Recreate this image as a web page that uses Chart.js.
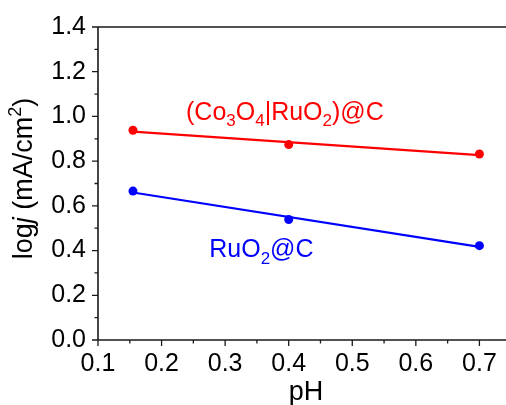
<!DOCTYPE html>
<html>
<head>
<meta charset="utf-8">
<script src="https://cdn.jsdelivr.net/npm/chart.js@4/dist/chart.umd.min.js"></script>
<style>
  html, body { margin: 0; padding: 0; background: #fff; overflow: hidden; }
  #wrap { width: 506px; height: 405px; position: relative; }
</style>
</head>
<body>
<div id="wrap"><canvas id="c" width="506" height="405"></canvas></div>
<script>
// Measured pH values and log current densities for the two catalysts
const phValues = [0.155, 0.4, 0.7];
const logjCoRu = [0.938, 0.874, 0.832];
const logjRu = [0.666, 0.539, 0.422];

// Axis tick labels
const xTickValues = [0.1, 0.2, 0.3, 0.4, 0.5, 0.6, 0.7];
const yTickValues = [0.0, 0.2, 0.4, 0.6, 0.8, 1.0, 1.2, 1.4];

// Text markup: _x = subscript char, ^x = superscript char, *...* = italic
const seriesNames = ['(Co_3O_4|RuO_2)@C', 'RuO_2@C'];
const xTitle = 'pH';
const yTitle = 'log*j* (mA/cm^2)';

const RED = '#ff0000';
const BLUE = '#0000ff';
const FONT = '"Liberation Sans", Arial, sans-serif';

// Least-squares straight line through a series
function linFit(xs, ys) {
  const n = xs.length;
  const mx = xs.reduce((a, v) => a + v, 0) / n;
  const my = ys.reduce((a, v) => a + v, 0) / n;
  let sxy = 0, sxx = 0;
  for (let i = 0; i < n; i++) {
    sxy += (xs[i] - mx) * (ys[i] - my);
    sxx += (xs[i] - mx) * (xs[i] - mx);
  }
  const m = sxy / sxx;
  return { m, b: my - m * mx };
}
function fitLine(xs, ys) {
  const f = linFit(xs, ys);
  const x0 = Math.min(...xs), x1 = Math.max(...xs);
  return [{ x: x0, y: f.m * x0 + f.b }, { x: x1, y: f.m * x1 + f.b }];
}
const pts = (xs, ys) => xs.map((x, i) => ({ x, y: ys[i] }));

// Split markup into styled runs
function parseRich(str) {
  const runs = [];
  let italic = false;
  for (let i = 0; i < str.length; i++) {
    const ch = str[i];
    if (ch === '*') { italic = !italic; continue; }
    if (ch === '_' || ch === '^') {
      runs.push({ t: str[i + 1], mode: ch === '_' ? 'sub' : 'sup', italic });
      i++;
      continue;
    }
    const last = runs[runs.length - 1];
    if (last && last.mode === 'n' && last.italic === italic) last.t += ch;
    else runs.push({ t: ch, mode: 'n', italic });
  }
  return runs;
}
function runFont(r, size) {
  const s = r.mode === 'n' ? size : Math.round(size * 0.68);
  return (r.italic ? 'italic ' : '') + s + 'px ' + FONT;
}
function richWidth(ctx, runs, size) {
  let w = 0;
  runs.forEach(r => { ctx.font = runFont(r, size); w += ctx.measureText(r.t).width; });
  return w;
}
// Draws rich text starting at (x, y) on the baseline
function drawRich(ctx, runs, x, y, size, color) {
  ctx.fillStyle = color;
  ctx.textBaseline = 'alphabetic';
  ctx.textAlign = 'left';
  runs.forEach(r => {
    ctx.font = runFont(r, size);
    let dy = 0;
    if (r.mode === 'sub') dy = size * 0.26;
    if (r.mode === 'sup') dy = -size * 0.4;
    ctx.fillText(r.t, x, y + dy);
    x += ctx.measureText(r.t).width;
  });
}

// Frame, tick marks, axis titles and in-plot series labels
const decorPlugin = {
  id: 'decor',
  afterDraw(chart) {
    const { ctx, chartArea: a, scales: { x, y } } = chart;
    const right = chart.width;
    ctx.save();
    ctx.strokeStyle = '#1a1a1a';
    ctx.lineWidth = 1.6;
    ctx.beginPath();
    // left axis and bottom axis
    ctx.moveTo(a.left, a.top);
    ctx.lineTo(a.left, a.bottom);
    ctx.moveTo(a.left, a.bottom);
    ctx.lineTo(right, a.bottom);
    // top border
    ctx.moveTo(a.left, a.top);
    ctx.lineTo(right, a.top);
    ctx.stroke();

    ctx.lineWidth = 1.3;
    ctx.beginPath();
    // x ticks (major every 0.1, minor halfway)
    for (let v = 0.1; v <= 0.75 + 1e-9; v += 0.05) {
      const px = x.getPixelForValue(v);
      if (px > right) break;
      const major = Math.abs(Math.round(v * 10) - v * 10) < 1e-6;
      ctx.moveTo(px, a.bottom);
      ctx.lineTo(px, a.bottom + (major ? 6 : 3.5));
    }
    // y ticks (major every 0.2, minor halfway)
    for (let v = 0; v <= y.max + 1e-9; v += 0.1) {
      const py = y.getPixelForValue(v);
      const major = Math.abs(Math.round(v * 5) - v * 5) < 1e-6;
      ctx.moveTo(a.left, py);
      ctx.lineTo(a.left - (major ? 6 : 3.5), py);
    }
    ctx.stroke();

    // x title
    const xr = parseRich(xTitle);
    const xw = richWidth(ctx, xr, 27);
    drawRich(ctx, xr, (a.left + right) / 2 + 4 - xw / 2, 400, 27, '#000');

    // y title (rotated)
    const yr = parseRich(yTitle);
    const yw = richWidth(ctx, yr, 27);
    ctx.save();
    ctx.translate(32, (a.top + a.bottom) / 2 - 5);
    ctx.rotate(-Math.PI / 2);
    drawRich(ctx, yr, -yw / 2, 0, 27, '#000');
    ctx.restore();

    // series labels placed in data space
    const r1 = parseRich(seriesNames[0]);
    const w1 = richWidth(ctx, r1, 25);
    drawRich(ctx, r1, x.getPixelForValue(0.394) - w1 / 2, y.getPixelForValue(0.985), 25, RED);
    const r2 = parseRich(seriesNames[1]);
    drawRich(ctx, r2, x.getPixelForValue(0.275), y.getPixelForValue(0.37), 25, BLUE);
    ctx.restore();
  }
};

new Chart(document.getElementById('c'), {
  type: 'scatter',
  data: {
    datasets: [
      { label: seriesNames[0], data: pts(phValues, logjCoRu), backgroundColor: RED, borderColor: RED,
        pointRadius: 4.5, pointBorderWidth: 0, showLine: false },
      { label: seriesNames[1], data: pts(phValues, logjRu), backgroundColor: BLUE, borderColor: BLUE,
        pointRadius: 4.5, pointBorderWidth: 0, showLine: false },
      { label: 'fit 1', data: fitLine(phValues, logjCoRu), borderColor: RED, borderWidth: 2.2,
        pointRadius: 0, showLine: true, fill: false },
      { label: 'fit 2', data: fitLine(phValues, logjRu), borderColor: BLUE, borderWidth: 2.2,
        pointRadius: 0, showLine: true, fill: false }
    ]
  },
  options: {
    responsive: false,
    animation: false,
    devicePixelRatio: 1,
    layout: { padding: { top: 26, right: 0, left: 0, bottom: 0 } },
    plugins: { legend: { display: false }, tooltip: { enabled: false } },
    scales: {
      x: {
        type: 'linear',
        min: 0.1,
        max: 0.73,
        afterBuildTicks: s => { s.ticks = xTickValues.map(v => ({ value: v })); },
        afterFit: s => { s.height = 65; },
        grid: { display: false, drawTicks: false },
        border: { display: false },
        ticks: {
          padding: 9,
          color: '#000',
          font: { family: FONT, size: 25 },
          maxRotation: 0,
          autoSkip: false,
          callback: v => Number(v).toFixed(1)
        }
      },
      y: {
        type: 'linear',
        min: 0,
        max: 1.4,
        afterBuildTicks: s => { s.ticks = yTickValues.map(v => ({ value: v })); },
        afterFit: s => { s.width = 98; },
        grid: { display: false, drawTicks: false },
        border: { display: false },
        ticks: {
          padding: 12,
          color: '#000',
          font: { family: FONT, size: 25 },
          autoSkip: false,
          callback: v => Number(v).toFixed(1)
        }
      }
    }
  },
  plugins: [decorPlugin]
});
</script>
</body>
</html>
